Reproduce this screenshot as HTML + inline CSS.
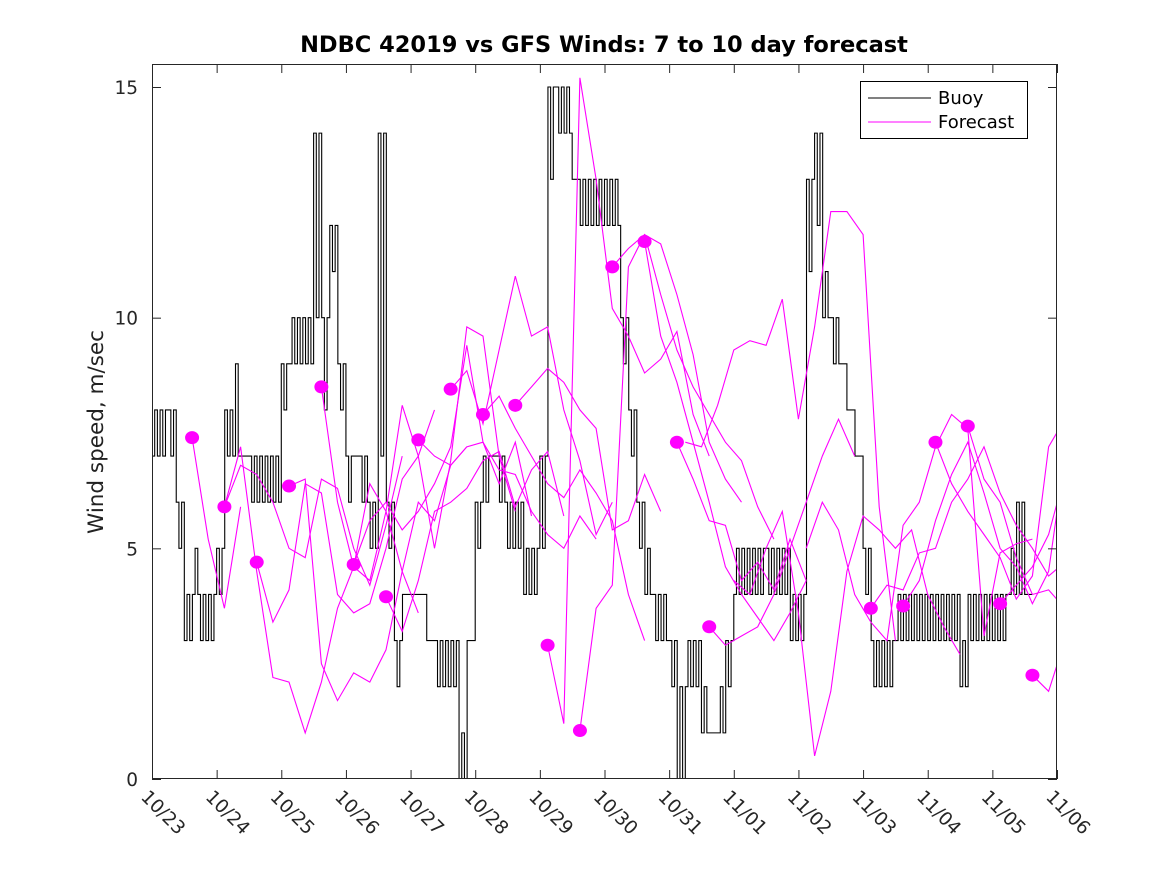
<!DOCTYPE html>
<html><head><meta charset="utf-8"><style>
html,body{margin:0;padding:0;background:#fff;}
svg{display:block;font-family:"DejaVu Sans","Liberation Sans",sans-serif;}
</style></head><body>
<svg id="chart" width="1167" height="875" viewBox="0 0 1167 875" xmlns="http://www.w3.org/2000/svg">
<rect x="0" y="0" width="1167" height="875" fill="#fff"/>
<text x="604" y="52" text-anchor="middle" font-size="22.5" font-weight="bold" fill="#000">NDBC 42019 vs GFS Winds: 7 to 10 day forecast</text>
<text transform="translate(103,432) rotate(-90)" text-anchor="middle" font-size="21.5" fill="#222">Wind speed, m/sec</text>
<g id="plot"></g>
<g id="axes"></g>
<g>
<rect x="860.5" y="81.5" width="167" height="57" fill="#fff" stroke="#000" stroke-width="1"/>
<line x1="868" y1="98" x2="931" y2="98" stroke="#000" stroke-width="1"/>
<text x="938" y="104" font-size="18" fill="#000">Buoy</text>
<line x1="868" y1="122" x2="931" y2="122" stroke="#ff00ff" stroke-width="1"/>
<text x="938" y="128" font-size="18" fill="#000">Forecast</text>
</g>
</svg>
<script>
const xTickLabels = ["10/23","10/24","10/25","10/26","10/27","10/28","10/29","10/30","10/31","11/01","11/02","11/03","11/04","11/05","11/06"];
const yTicks = [0,5,10,15];
const buoyStep = 0.125;
const buoyValues = [
7,8,8,6,3,4,3,4,
5,8,7,7,7,6,7,6,
9,9,10,9,14,10,12,9,
7,7,6,5,14,6,3,4,
4,4,3,3,2,3,0,3,
6,7,7,6,5,6,4,5,
7,15,15,14,13,12,13,12,
13,12,10,8,6,4,4,3,
3,0,2,3,1,1,1,3,
4,5,4,5,5,4,5,3,
4,13,14,10,10,9,8,7,
5,3,2,3,3,4,3,4,
3,4,3,4,2,4,3,4,
3,4,4,6,4];
const buoyAlt = [
8,7,7,5,4,5,4,3,
4,7,9,7,6,7,6,7,
8,10,9,10,10,8,11,8,
6,7,7,6,7,5,2,4,
4,4,3,2,3,2,1,3,
5,6,7,7,6,5,5,4,
5,13,14,15,13,13,12,13,
12,13,9,7,5,5,3,4,
2,2,3,2,2,1,2,2,
5,4,5,4,4,5,4,4,
3,11,12,11,9,9,8,7,
4,2,3,2,4,3,4,3,
4,3,4,3,3,3,4,3,
4,3,5,4,4];
const forecastStep = 0.25;
const forecastStarts = [0.62,1.12,1.12,1.62,2.12,2.62,3.12,3.62,4.12,4.62,5.12,5.62,6.12,6.62,7.12,7.62,8.12,8.62,8.25,9.0,10.12,11.12,11.62,12.12,12.62,13.12,13.62];
const forecastSeries = [
[7.4,5.2,3.7,5.9],
[5.9,7.2,4.5,2.2,2.1,1.0,2.1,3.7,4.6,6.4,5.8,4.5,3.6],
[5.9,6.8,6.6,6.0,5.0,4.8,6.5,6.3,5.0,4.2,5.5,7.0],
[4.7,3.4,4.1,6.4,6.2,4.0,3.6,3.8,5.0,6.5,7.0,8.0],
[6.35,6.5,2.5,1.7,2.3,2.1,2.8,4.5,6.0,5.6,6.8,7.2],
[8.5,6.0,4.6,4.3,5.8,8.1,7.0,5.0,6.9,9.8,9.6,7.0,5.8],
[4.65,5.6,6.0,5.4,5.8,6.4,7.2,9.4,7.3,6.4,7.3,5.7],
[3.95,3.2,4.3,5.8,6.0,6.3,6.9,7.1,5.9,6.7,7.1,5.7],
[7.35,7.0,6.8,7.2,7.3,6.7,6.6,5.8,5.3,5.0,5.7,5.2],
[8.45,8.85,7.7,9.3,10.9,9.6,9.8,8.0,6.9,5.3,6.0],
[7.9,8.3,7.6,7.0,6.4,6.1,6.7,6.2,5.6,4.0,3.0],
[8.1,8.5,8.9,8.6,8.0,7.6,5.4,5.6,6.6,5.8],
[2.9,1.2,15.2,13.0,10.2,9.6,8.8,9.1,9.7,7.9,7.0],
[1.05,3.7,4.2,11.1,11.8,11.6,10.5,9.2,7.3,6.5,6.0],
[11.1,11.5,11.8,10.5,9.3,8.5,7.9,7.3,6.9,5.9,5.2],
[11.65,9.6,8.6,7.3,6.0,4.6,4.0,3.5,3.0,3.6,4.3],
[7.3,6.5,5.6,5.5,4.3,4.7,4.1,5.2,4.3],
[3.3,2.9,3.1,3.3,4.0,5.0,6.0,7.0,7.8,7.0],
[7.3,7.2,8.1,9.3,9.5,9.4,10.4,7.8,9.8,12.3,12.3,11.8,5.9,3.0],
[4.3,4.0,5.0,5.8,3.6,0.5,1.9,4.5,5.7,5.4,5.0,5.4,4.0,3.3,2.7],
[5.0,6.0,5.4,4.0,3.4,3.0,5.5,6.0,7.2,7.9,7.6,3.1,4.9,5.1,5.2],
[3.7,4.2,4.1,4.9,5.0,6.0,6.5,7.2,6.2,5.5,5.0,4.4,4.7],
[3.75,4.3,5.6,6.6,7.3,6.2,5.0,4.6,3.8,4.5,7.0,7.9,7.8],
[7.3,6.4,5.8,5.3,4.8,3.9,4.4,7.2,7.8,6.5,6.6,7.2,6.3,8.2],
[7.65,6.5,6.0,4.8,4.0,4.1,3.7,3.0,2.9,2.2,1.6,1.3,2.4],
[3.8,4.2,4.6,5.3,6.6,6.5,4.7,5.3,7.3],
[2.25,1.9,3.0,4.7,6.2,6.6]];
const dotDays = [0.62,1.12,1.62,2.12,2.62,3.12,3.62,4.12,4.62,5.12,5.62,6.12,6.62,7.12,7.62,8.12,8.62,11.12,11.62,12.12,12.62,13.12,13.62];
const dotValues = [7.4,5.9,4.7,6.35,8.5,4.65,3.95,7.35,8.45,7.9,8.1,2.9,1.05,11.1,11.65,7.3,3.3,3.7,3.75,7.3,7.65,3.8,2.25];

const L=152,R=1057,T=64,B=779,NS="http://www.w3.org/2000/svg";
const xS=d=>L+(R-L)*d/14;
const yS=v=>B-(B-87)*v/15;
function mk(tag,attrs,parent){const e=document.createElementNS(NS,tag);for(const k in attrs)e.setAttribute(k,attrs[k]);parent.appendChild(e);return e;}
const plot=document.getElementById('plot'), axes=document.getElementById('axes');
const clip=mk('clipPath',{id:'pc'},plot);mk('rect',{x:L,y:T,width:R-L,height:B-T},clip);
const g=mk('g',{'clip-path':'url(#pc)'},plot);
let d='';
const sub=buoyStep/3;
buoyValues.forEach((v,i)=>{
  const seq=[v,buoyAlt[i],v];
  seq.forEach((s,k)=>{
    const t=i*buoyStep+k*sub, y=yS(s);
    if(d==='')d='M'+xS(t)+' '+y;else d+=' V'+y;
    d+=' H'+xS(t+sub).toFixed(2);
  });
});
const bl=mk('path',{d:d,fill:'none',stroke:'#000','stroke-width':1.1},g);


forecastSeries.forEach((s,j)=>{
  const pts=s.map((v,i)=>xS(forecastStarts[j]+i*forecastStep).toFixed(1)+','+yS(v).toFixed(1)).join(' ');
  const p=mk('polyline',{points:pts,fill:'none',stroke:'#ff00ff','stroke-width':1.1},g);
  
  
});
dotValues.forEach((v,i)=>{
  const c=mk('ellipse',{cx:xS(dotDays[i]),cy:yS(v),rx:7,ry:6.5,fill:'#ff00ff'},g);
  
  
});
const box=mk('rect',{x:L+0.5,y:T+0.5,width:R-L-1,height:B-T-1,fill:'none',stroke:'#262626','stroke-width':1},axes);


xTickLabels.forEach((lab,i)=>{
  const x=xS(i)+0.5;
  mk('line',{x1:x,y1:B,x2:x,y2:B-9,stroke:'#262626'},axes);
  mk('line',{x1:x,y1:T,x2:x,y2:T+9,stroke:'#262626'},axes);
  const t=mk('text',{transform:`translate(${xS(i)-12},${B+19}) rotate(45)`,'font-size':18.5,fill:'#262626'},axes);
  t.textContent=lab;
  
  
});
yTicks.forEach(v=>{
  const y=yS(v)+0.5;
  mk('line',{x1:L,y1:y,x2:L+9,y2:y,stroke:'#262626'},axes);
  mk('line',{x1:R,y1:y,x2:R-9,y2:y,stroke:'#262626'},axes);
  const t=mk('text',{x:L-14,y:yS(v)+7,'text-anchor':'end','font-size':18.5,fill:'#262626'},axes);
  t.textContent=v;
  
  
});
</script>
</body></html>
